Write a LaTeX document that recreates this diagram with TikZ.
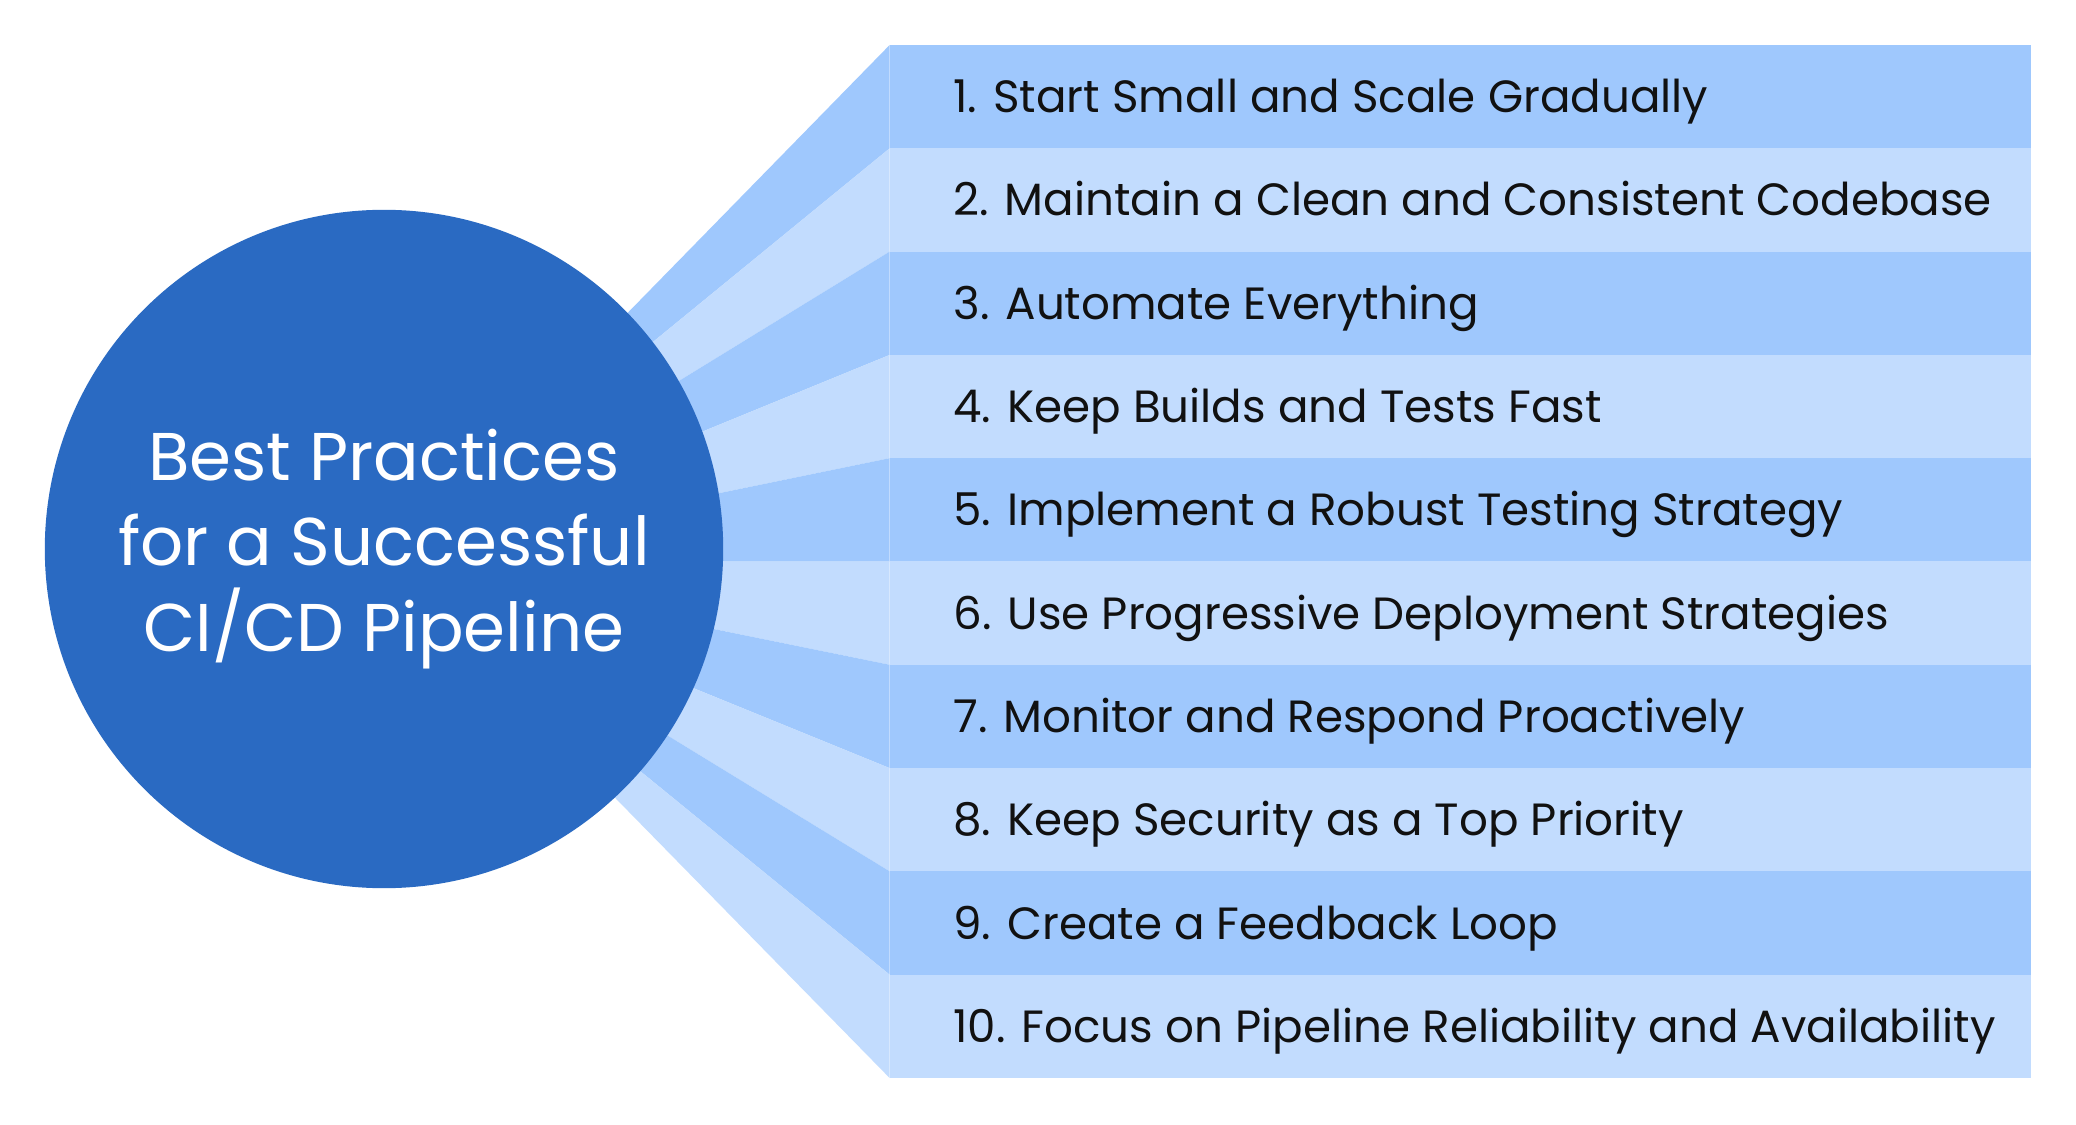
\documentclass[tikz,border=0pt]{standalone}
\usepackage{fontspec}
\setmainfont{Poppins}
\usetikzlibrary{positioning}
\definecolor{koyuMavi}{HTML}{2A6AC2}
\definecolor{bantKoyu}{HTML}{9FC8FD}
\definecolor{bantAcik}{HTML}{C2DCFE}
\definecolor{yaziSiyah}{HTML}{111111}

\begin{document}
\begin{tikzpicture}[x=0.01cm, y=-0.01cm,
  bant/.style={minimum width=11.41cm, minimum height=1.033cm, inner sep=0, outer sep=0},
  madde/.style={inner sep=0, anchor=base west, text=yaziSiyah, font=\fontsize{12.85}{15}\selectfont},
  merkez/.style={circle, fill=koyuMavi, minimum size=6.78cm, inner sep=0, text=white, align=center, font=\fontsize{19.2}{24.4}\selectfont}]
\useasboundingbox (0,0) rectangle (2076,1125);
\coordinate (odak) at (384,562);
% bands with their fan pieces
\foreach \i/\c/\t in {1/bantKoyu/{1. Start Small and Scale Gradually},
  2/bantAcik/{2. Maintain a Clean and Consistent Codebase},
  3/bantKoyu/{3. Automate Everything},
  4/bantAcik/{4. Keep Builds and Tests Fast},
  5/bantKoyu/{5. Implement a Robust Testing Strategy},
  6/bantAcik/{6. Use Progressive Deployment Strategies},
  7/bantKoyu/{7. Monitor and Respond Proactively},
  8/bantAcik/{8. Keep Security as a Top Priority},
  9/bantKoyu/{9. Create a Feedback Loop},
  10/bantAcik/{10. Focus on Pipeline Reliability and Availability}} {
  \node[bant, fill=\c] (b\i) at (1460.5, 45+103.3*\i-51.65) {};
  \fill[\c] (odak) -- (b\i.north west) -- (b\i.south west) -- cycle;
  \node[madde] (m\i) at ([xshift=0.63cm, yshift=-0.16cm]b\i.west) {\t};
}
\node[merkez] (baslik) at (384,549) {Best Practices\\for a Successful\\CI/CD Pipeline};
\end{tikzpicture}
\end{document}
